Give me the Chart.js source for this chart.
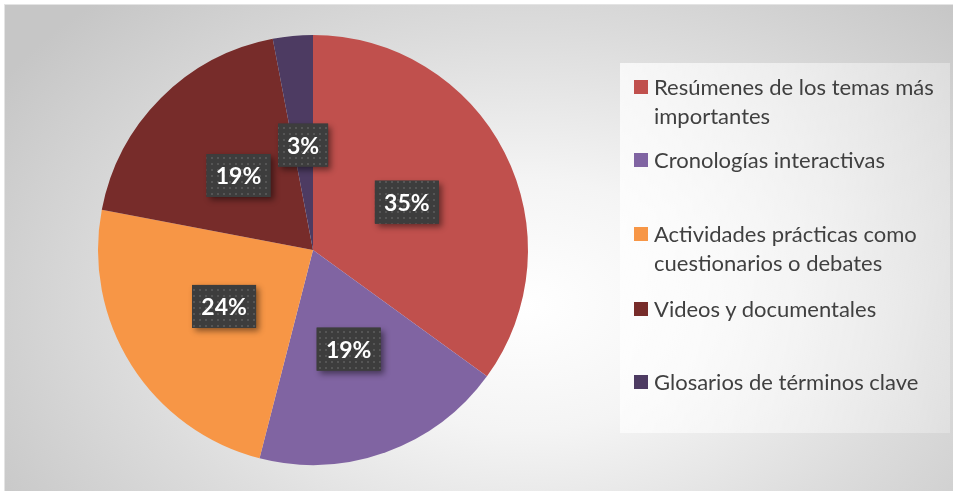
<!DOCTYPE html>
<html>
<head>
<meta charset="utf-8">
<script src="https://cdn.jsdelivr.net/npm/chart.js@4.4.1/dist/chart.umd.min.js"></script>
<style>
  html, body { margin: 0; padding: 0; }
  body { width: 955px; height: 491px; overflow: hidden; background: #ffffff; position: relative; font-family: Lato, "Open Sans", sans-serif; }
  #frame {
    position: absolute; left: 4px; top: 4px; width: 949px; height: 487px;
    border-top: 1px solid #e4e4e4; border-left: 1px solid #e4e4e4;
    background: radial-gradient(ellipse 620px 420px at 520px 300px, #ffffff 0%, #f4f4f4 30%, #dcdcdc 65%, #c6c6c6 100%);
    box-sizing: border-box;
  }
  #chart { position: absolute; left: 0; top: 0; }
  #legend {
    position: absolute; left: 620px; top: 63px; width: 330px; height: 370px;
    background: linear-gradient(100deg, rgba(255,255,255,0.75) 0%, rgba(255,255,255,0.45) 60%, rgba(255,255,255,0.25) 100%);
    color: #404040; font-size: 22px; line-height: 29px;
  }
  .item { position: absolute; left: 14px; width: 316px; white-space: nowrap; }
  .sw { position: absolute; left: 0; top: 8px; width: 14px; height: 14px; }
  .txt { margin-left: 20px; }
</style>
</head>
<body>
<div id="frame"></div>
<canvas id="chart" width="955" height="491"></canvas>
<div id="legend"></div>
<script>
const categories = [
  "Resúmenes de los temas más importantes",
  "Cronologías interactivas",
  "Actividades prácticas como cuestionarios o debates",
  "Videos y documentales",
  "Glosarios de términos clave"
];
const legendLines = [
  ["Resúmenes de los temas más", "importantes"],
  ["Cronologías interactivas"],
  ["Actividades prácticas como", "cuestionarios o debates"],
  ["Videos y documentales"],
  ["Glosarios de términos clave"]
];
const values = [35, 19, 24, 19, 3];
const colors = ["#C0504D", "#8064A2", "#F79646", "#772C2A", "#4D3B62"];
const legendTops = [9, 82, 156, 231, 304];

// dotted pattern for the data label boxes
const pc = document.createElement("canvas");
pc.width = 6; pc.height = 6;
const pctx = pc.getContext("2d");
pctx.fillStyle = "#3d3d3d";
pctx.fillRect(0, 0, 6, 6);
pctx.fillStyle = "#555555";
pctx.fillRect(1, 1, 2, 2);

const labelBoxes = {
  id: "labelBoxes",
  afterDatasetsDraw(chart) {
    const c = chart.ctx;
    const meta = chart.getDatasetMeta(0);
    const pattern = c.createPattern(pc, "repeat");
    meta.data.forEach((arc, i) => {
      const p = arc.getProps(["x", "y", "startAngle", "endAngle", "outerRadius"], true);
      const mid = (p.startAngle + p.endAngle) / 2;
      const r = p.outerRadius * 0.49;
      const x = p.x + Math.cos(mid) * r;
      const y = p.y + Math.sin(mid) * r;
      const text = values[i] + "%";
      c.save();
      c.font = "bold 23px Lato, 'Open Sans', sans-serif";
      const w = Math.round(c.measureText(text).width) + 18;
      const h = 43;
      c.shadowColor = "rgba(0,0,0,0.45)";
      c.shadowBlur = 6;
      c.shadowOffsetX = 3;
      c.shadowOffsetY = 3;
      c.fillStyle = "#3d3d3d";
      c.fillRect(x - w / 2, y - h / 2, w, h);
      c.shadowColor = "transparent";
      c.fillStyle = pattern;
      c.fillRect(x - w / 2, y - h / 2, w, h);
      c.fillStyle = "#ffffff";
      c.textAlign = "center";
      c.textBaseline = "middle";
      c.fillText(text, x, y + 1);
      c.restore();
    });
  }
};

new Chart(document.getElementById("chart"), {
  type: "pie",
  data: {
    labels: categories,
    datasets: [{
      data: values,
      backgroundColor: colors,
      borderWidth: 0
    }]
  },
  options: {
    responsive: false,
    animation: false,
    layout: { padding: { left: 98, right: 427, top: 35, bottom: 26 } },
    plugins: {
      legend: { display: false },
      tooltip: { enabled: false }
    }
  },
  plugins: [labelBoxes]
});

const legend = document.getElementById("legend");
legendLines.forEach((lines, i) => {
  const item = document.createElement("div");
  item.className = "item";
  item.style.top = legendTops[i] + "px";
  const sw = document.createElement("div");
  sw.className = "sw";
  sw.style.background = colors[i];
  const txt = document.createElement("div");
  txt.className = "txt";
  txt.innerHTML = lines.join("<br>");
  item.appendChild(sw);
  item.appendChild(txt);
  legend.appendChild(item);
});
</script>
</body>
</html>
